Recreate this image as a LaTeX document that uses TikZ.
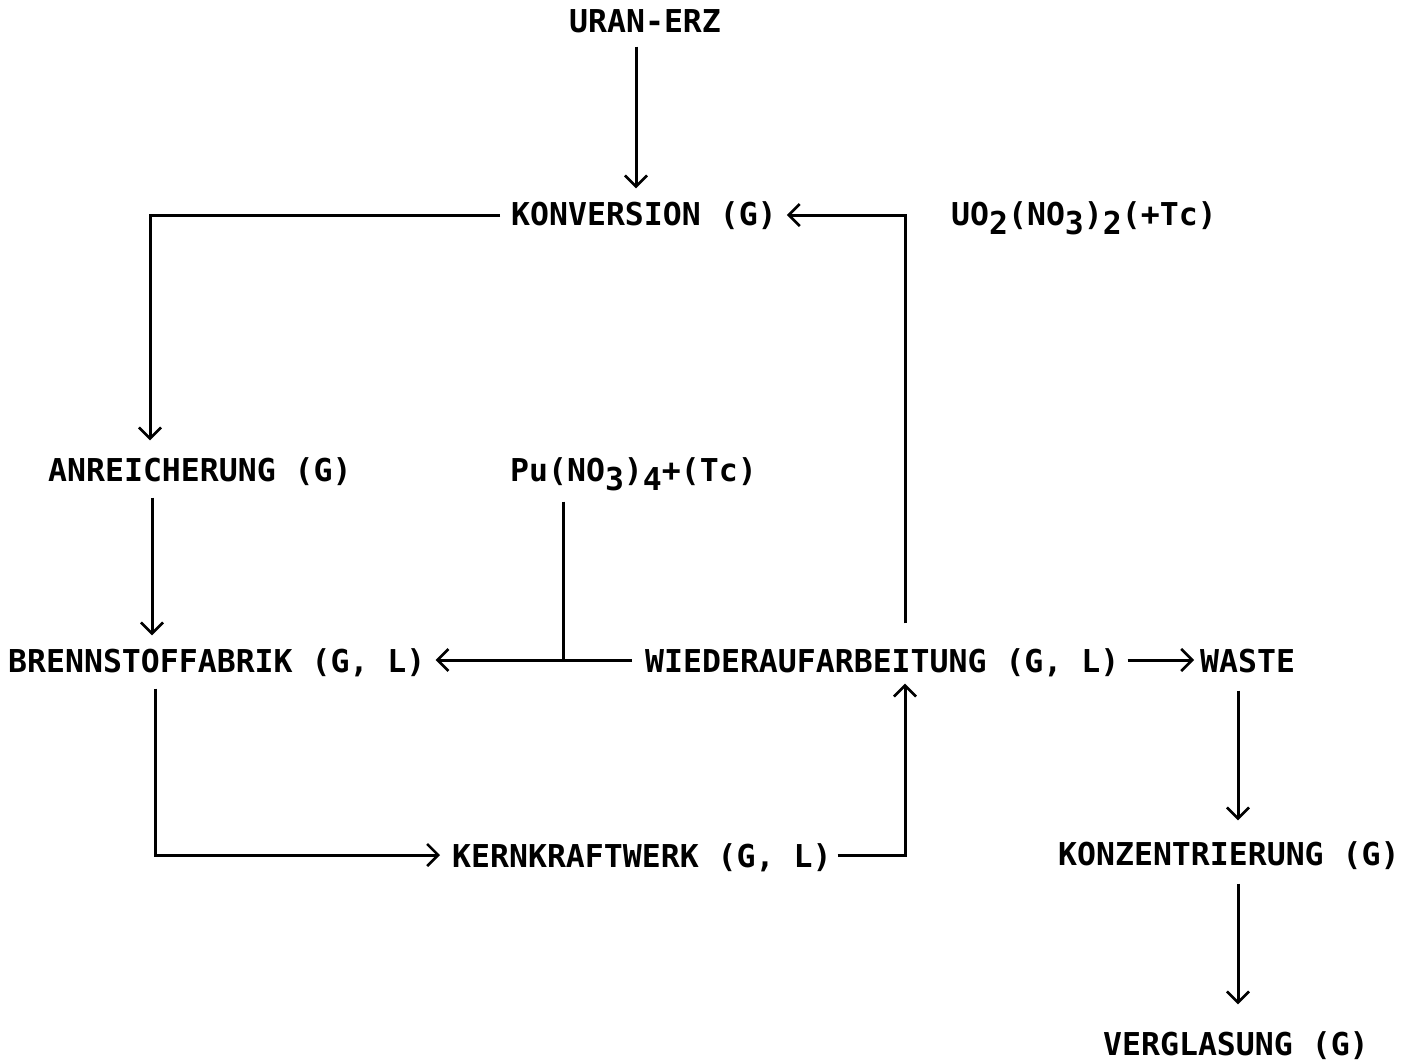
\documentclass[tikz,border=0pt]{standalone}
\usepackage{fontspec}
\setmonofont{DejaVu Sans Mono}
\usetikzlibrary{arrows.meta,calc}
\newcommand{\sbs}[1]{\raisebox{-9pt}{#1}}
\begin{document}
\begin{tikzpicture}[x=1pt,y=-1pt,
  lbl/.style={anchor=west,inner sep=0pt,font=\ttfamily\bfseries\fontsize{31.5}{31.5}\selectfont,text height=23pt,text depth=2pt},
  arr/.style={line width=3pt,-{Straight Barb[length=11pt,width=22pt,line width=2.6pt]}},
  ln/.style={line width=3pt}]
\useasboundingbox (0,0) rectangle (1424,1063);
\node[lbl] (uran) at (569,22) {URAN-ERZ};
\node[lbl] (konv) at (511,215) {KONVERSION (G)};
\node[lbl] (uo2) at (951,215) {UO\sbs{2}(NO\sbs{3})\sbs{2}(+Tc)};
\node[lbl] (anr) at (48,471) {ANREICHERUNG (G)};
\node[lbl] (pu) at (510,471) {Pu(NO\sbs{3})\sbs{4}+(Tc)};
\node[lbl] (brenn) at (8,662) {BRENNSTOFFABRIK (G, L)};
\node[lbl] (wied) at (645,662) {WIEDERAUFARBEITUNG (G, L)};
\node[lbl] (waste) at (1200,662) {WASTE};
\node[lbl] (kern) at (452,857) {KERNKRAFTWERK (G, L)};
\node[lbl] (konz) at (1058,855) {KONZENTRIERUNG (G)};
\node[lbl] (vergl) at (1103,1045) {VERGLASUNG (G)};
\coordinate (k1) at (150,215);
\coordinate (a1) at (152,0);
\coordinate (b1) at (155,0);
\coordinate (w1) at (905,0);
\coordinate (p1) at (563,0);
\coordinate (x1) at (1238,0);
\coordinate (u1) at (636,0);
% URAN-ERZ -> KONVERSION
\draw[arr] ($(uran.south -| u1)+(0,12)$) -- ($(konv.north -| u1)+(0,-14)$);
% KONVERSION -> ANREICHERUNG
\draw[arr] ($(konv.west)+(-11,0)$) -- (k1) -- ($(k1 |- anr.north)+(0,-18)$);
% ANREICHERUNG -> BRENNSTOFFABRIK
\draw[arr] ($(anr.south -| a1)+(0,14)$) -- ($(brenn.north -| a1)+(0,-14)$);
% BRENNSTOFFABRIK -> KERNKRAFTWERK
\draw[arr] ($(brenn.south -| b1)+(0,14)$) -- ($(kern.west -| b1)+(0,-2)$) -- ($(kern.west)+(-12,-2)$);
% KERNKRAFTWERK -> WIEDERAUFARBEITUNG
\draw[arr] ($(kern.east)+(6,-2)$) -- ($(kern.east -| w1)+(0,-2)$) -- ($(w1 |- wied.south)+(0,9)$);
% WIEDERAUFARBEITUNG -> KONVERSION
\draw[arr] ($(w1 |- wied.north)+(0,-26)$) -- (w1 |- konv.east) -- ($(konv.east)+(10,0)$);
% WIEDERAUFARBEITUNG -> BRENNSTOFFABRIK
\draw[arr] ($(wied.west)+(-13,-2)$) -- ($(brenn.east)+(10,-2)$);
% Pu line
\draw[ln] ($(pu.south -| p1)+(0,18)$) -- ($(wied.west -| p1)+(0,-2)$);
% WIEDERAUFARBEITUNG -> WASTE
\draw[arr] ($(wied.east)+(8,-2)$) -- ($(waste.west)+(-6,-2)$);
% WASTE -> KONZENTRIERUNG
\draw[arr] ($(waste.south -| x1)+(0,16)$) -- ($(konz.north -| x1)+(0,-22)$);
% KONZENTRIERUNG -> VERGLASUNG
\draw[arr] ($(konz.south -| x1)+(0,16)$) -- ($(vergl.north -| x1)+(0,-28)$);
\end{tikzpicture}
\end{document}
